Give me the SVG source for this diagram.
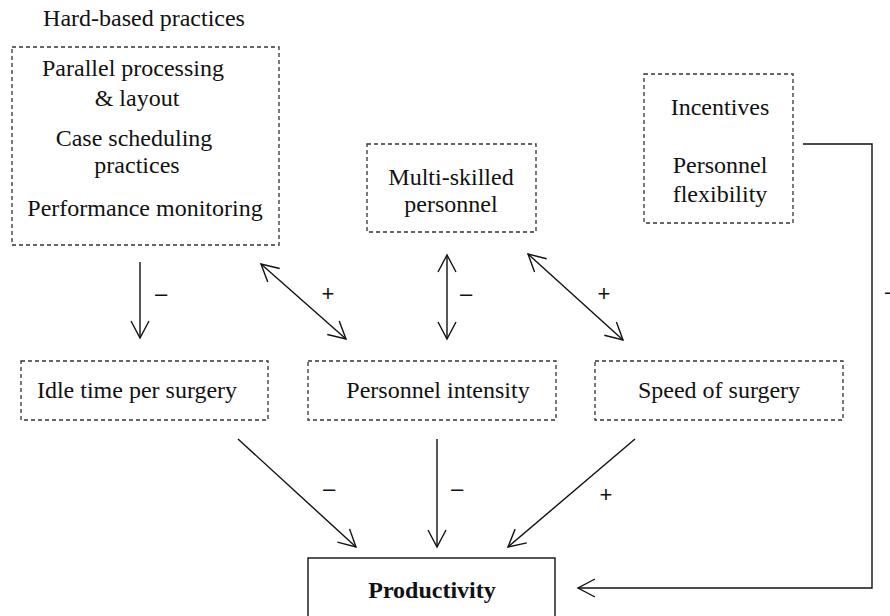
<svg xmlns="http://www.w3.org/2000/svg" width="890" height="616" viewBox="0 0 890 616">
<style>
.t{font-family:"Liberation Serif","Times New Roman",serif;font-size:24px;fill:#111;text-anchor:middle}
.b{font-weight:bold}
.s{font-family:"Liberation Sans",Arial,sans-serif;font-size:22px;fill:#111;text-anchor:middle}
.d{fill:none;stroke:#333;stroke-width:1.3;stroke-dasharray:4 3}
.c{fill:none;stroke:#111;stroke-width:1.4}
</style>
<defs>
<marker id="ah" markerUnits="userSpaceOnUse" markerWidth="24" markerHeight="24" viewBox="-20 -12 24 24" refX="0" refY="0" orient="auto-start-reverse">
<path d="M-17,-9 L0,0 L-17,9" fill="none" stroke="#111" stroke-width="1.4"/>
</marker>
</defs>
<rect width="890" height="616" fill="#fff"/>
<g id="hard">
<text class="t" x="144" y="26">Hard-based practices</text>
<rect class="d" x="12" y="47" width="267" height="198"/>
<text class="t" x="133" y="76">Parallel processing</text>
<text class="t" x="137" y="106">&amp; layout</text>
<text class="t" x="134" y="146">Case scheduling</text>
<text class="t" x="137" y="173">practices</text>
<text class="t" x="145" y="216">Performance monitoring</text>
</g>
<g id="soft">
<rect class="d" x="644" y="74" width="149" height="149"/>
<text class="t" x="720" y="115">Incentives</text>
<text class="t" x="720" y="173">Personnel</text>
<text class="t" x="720" y="202">flexibility</text>
</g>
<g id="multi">
<rect class="d" x="367" y="144" width="169" height="88"/>
<text class="t" x="451" y="185">Multi-skilled</text>
<text class="t" x="451" y="212">personnel</text>
</g>
<g id="idle">
<rect class="d" x="21" y="361" width="247" height="59"/>
<text class="t" x="137" y="398">Idle time per surgery</text>
</g>
<g id="intensity">
<rect class="d" x="308" y="361" width="248" height="59"/>
<text class="t" x="438" y="398">Personnel intensity</text>
</g>
<g id="speed">
<rect class="d" x="595" y="361" width="248" height="59"/>
<text class="t" x="719" y="398">Speed of surgery</text>
</g>
<g id="productivity">
<rect x="308" y="558" width="247" height="70" fill="none" stroke="#111" stroke-width="1.4"/>
<text class="t b" x="432" y="598">Productivity</text>
</g>
<g id="connectors">
<line class="c" x1="140" y1="262" x2="140" y2="338" marker-end="url(#ah)"/>
<line class="c" x1="261" y1="264" x2="346" y2="339" marker-start="url(#ah)" marker-end="url(#ah)"/>
<line class="c" x1="447" y1="255" x2="447" y2="339" marker-start="url(#ah)" marker-end="url(#ah)"/>
<line class="c" x1="528" y1="254" x2="623" y2="340" marker-start="url(#ah)" marker-end="url(#ah)"/>
<line class="c" x1="238" y1="439" x2="356" y2="547" marker-end="url(#ah)"/>
<line class="c" x1="437" y1="439" x2="437" y2="547" marker-end="url(#ah)"/>
<line class="c" x1="635" y1="439" x2="508" y2="547" marker-end="url(#ah)"/>
<polyline class="c" points="803,144 872,144 872,588 578,588" marker-end="url(#ah)"/>
<text class="s" x="161" y="301">–</text>
<text class="s" x="328" y="301">+</text>
<text class="s" x="466" y="301">–</text>
<text class="s" x="604" y="301">+</text>
<text class="s" x="329" y="496">–</text>
<text class="s" x="457" y="496">–</text>
<text class="s" x="606" y="502">+</text>
<text class="s" x="885" y="299" style="text-anchor:start">–</text>
</g>
</svg>
